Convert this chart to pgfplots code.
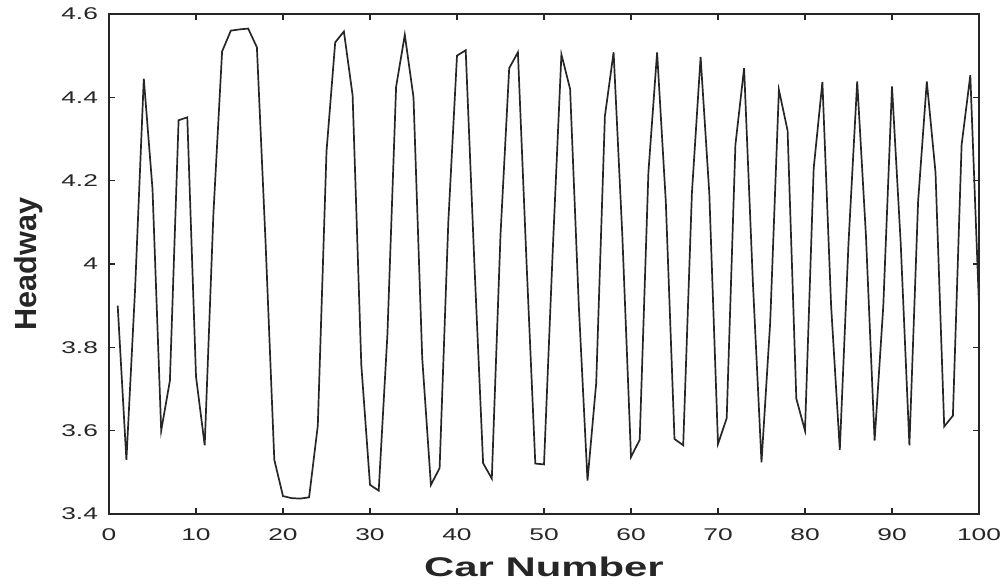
\documentclass[border=0pt]{standalone}
\usepackage{pgfplots}
\pgfplotsset{compat=1.18}
\usepackage{fontspec}
\setmainfont{Liberation Sans}
% wide-set sans for ticks and the x label
\newfontfamily\tickfont{Liberation Sans}[FakeStretch=1.55]
\newfontfamily\labelfont{Liberation Sans}[FakeStretch=1.55]
\definecolor{axgray}{HTML}{262626}

\pgfplotstableread{
car headway
1 3.90
2 3.53
3 3.94
4 4.445
5 4.18
6 3.60
7 3.72
8 4.345
9 4.352
10 3.73
11 3.565
12 4.12
13 4.51
14 4.56
15 4.563
16 4.565
17 4.52
18 4.05
19 3.53
20 3.443
21 3.438
22 3.437
23 3.44
24 3.612
25 4.27
26 4.532
27 4.558
28 4.405
29 3.758
30 3.47
31 3.456
32 3.83
33 4.425
34 4.55
35 4.40
36 3.775
37 3.47
38 3.51
39 4.10
40 4.50
41 4.513
42 4.00
43 3.522
44 3.485
45 4.07
46 4.47
47 4.508
48 4.00
49 3.521
50 3.519
51 4.03
52 4.503
53 4.42
54 3.90
55 3.48
56 3.714
57 4.355
58 4.508
59 4.07
60 3.537
61 3.578
62 4.22
63 4.508
64 4.15
65 3.58
66 3.565
67 4.17
68 4.497
69 4.17
70 3.568
71 3.63
72 4.286
73 4.47
74 3.96
75 3.524
76 3.86
77 4.418
78 4.32
79 3.677
80 3.60
81 4.23
82 4.437
83 3.90
84 3.554
85 4.05
86 4.438
87 4.07
88 3.576
89 3.90
90 4.426
91 4.05
92 3.565
93 4.15
94 4.438
95 4.22
96 3.61
97 3.636
98 4.286
99 4.453
100 3.90
}\headwaydata

\begin{document}
\begin{tikzpicture}
\begin{axis}[
  at={(0,0)}, anchor=south west,
  scale only axis,
  width=435pt, height=250pt,
  xmin=0, xmax=100,
  ymin=3.4, ymax=4.6,
  xtick={0,10,...,100},
  ytick={3.4,3.6,3.8,4,4.2,4.4,4.6},
  tick pos=both,
  tick align=inside,
  major tick length=3pt,
  axis line style={axgray, line width=0.7pt},
  every tick/.style={axgray, line width=0.6pt},
  /pgf/number format/assume math mode=true,
  ticklabel style={font=\tickfont\fontsize{8.5}{10}\selectfont, text=axgray},
  xticklabel style={yshift=-4pt},
  yticklabel style={xshift=-2pt},
  xlabel={Car Number},
  ylabel={Headway},
  xlabel style={at={(axis description cs:0.5,-0.085)}, anchor=north, inner sep=0pt,
    font=\labelfont\bfseries\fontsize{13.5}{15}\selectfont, text=axgray},
  ylabel style={at={(axis description cs:-0.0759,0.5)}, anchor=south, inner sep=0pt,
    font=\bfseries\fontsize{15.3}{17}\selectfont, text=axgray},
]
\addplot[black!85, line width=0.85pt, mark=none] table[x=car, y=headway] {\headwaydata};
\end{axis}
\pgfresetboundingbox
\path[use as bounding box] (-54.5pt,-37pt) rectangle (446pt,257pt);
\end{tikzpicture}
\end{document}
